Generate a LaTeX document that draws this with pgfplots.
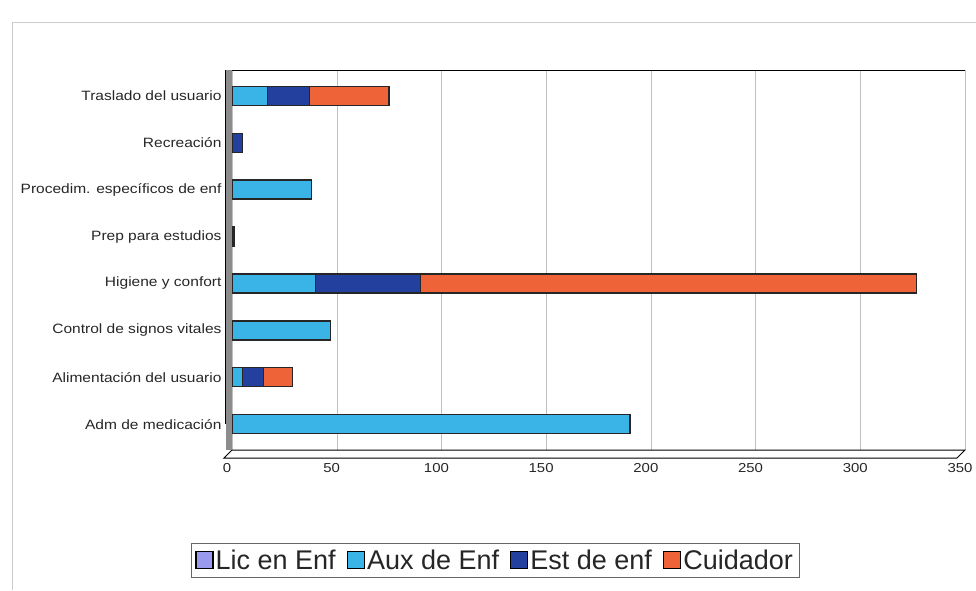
\documentclass[border=0pt]{standalone}
\usepackage{pgfplots}
\pgfplotsset{compat=1.18}
\usepackage{fontspec}
\setmainfont{Liberation Sans}
\newfontfamily\widefont[FakeStretch=1.15]{Liberation Sans}
\definecolor{lic}{HTML}{9999EE}
\definecolor{aux}{HTML}{3AB4E6}
\definecolor{est}{HTML}{23409E}
\definecolor{cui}{HTML}{EE6438}
\begin{document}
\begin{tikzpicture}[x=1pt,y=1pt]
\path[use as bounding box] (-232,-140) rectangle (744,450);
\draw[black!20] (-220,-140) -- (-220,428) -- (744,428);
\begin{axis}[
  at={(0,0)}, anchor=south west,
  scale only axis, width=733pt, height=380pt,
  clip=false,
  xbar stacked, bar width=19pt,
  xmin=0, xmax=350, xtick={0,50,...,350},
  ymin=-0.55, ymax=7.55,
  ytick={0,...,7},
  yticklabels={Adm de medicación,Alimentación del usuario,Control de signos vitales,Higiene y confort,Prep para estudios,Procedim. específicos de enf,Recreación,Traslado del usuario},
  yticklabel style={font=\widefont\fontsize{13.5}{15}\selectfont, text=black!85, xshift=-7pt},
  xticklabel style={font=\widefont\fontsize{13}{15}\selectfont, text=black!85, yshift=-10pt, xshift=-5pt},
  /pgf/number format/assume math mode=true,
  xmajorgrids, grid style={black!25},
  axis line style={black, line width=1pt},
  axis x line*=bottom, axis y line*=left,
  y tick style={draw=none}, x tick style={draw=none},
  legend style={at={(0.359,-0.29)}, anchor=center, legend columns=4,
    draw=black!60, font=\fontsize{27}{29}\selectfont, text=black!85,
    inner sep=4pt,
    /tikz/every even column/.style={column sep=9pt}},
  legend image code/.code={\draw[#1, draw=black] (0pt,-8pt) rectangle (17pt,9pt);},
  every axis plot/.append style={draw=black!85, line width=1.3pt},
]
\fill[black!45] (axis cs:0,-0.55) rectangle ([xshift=-6pt]axis cs:0,7.55);
\draw[black, line width=1pt, fill=white] (axis cs:0,-0.55) -- (axis cs:350,-0.55) -- ([xshift=-8pt,yshift=-8pt]axis cs:350,-0.55) -- ([xshift=-8pt,yshift=-8pt]axis cs:0,-0.55) -- cycle;
\addplot[fill=lic] coordinates {(0,0) (0,1) (0,2) (0,3) (0,4) (0,5) (0,6) (0,7)};
\addplot[fill=aux] coordinates {(190,0) (5,1) (47,2) (40,3) (0,4) (38,5) (0,6) (17,7)};
\addplot[fill=est] coordinates {(0,0) (10,1) (0,2) (50,3) (0,4) (0,5) (5,6) (20,7)};
\addplot[fill=cui] coordinates {(0,0) (14,1) (0,2) (237,3) (1,4) (0,5) (0,6) (38,7)};
\draw[black, line width=1pt] (rel axis cs:0,0) ++(-6pt,0) |- (rel axis cs:1,1);
\legend{Lic en Enf, Aux de Enf, Est de enf, Cuidador}
\end{axis}
\end{tikzpicture}
\end{document}
